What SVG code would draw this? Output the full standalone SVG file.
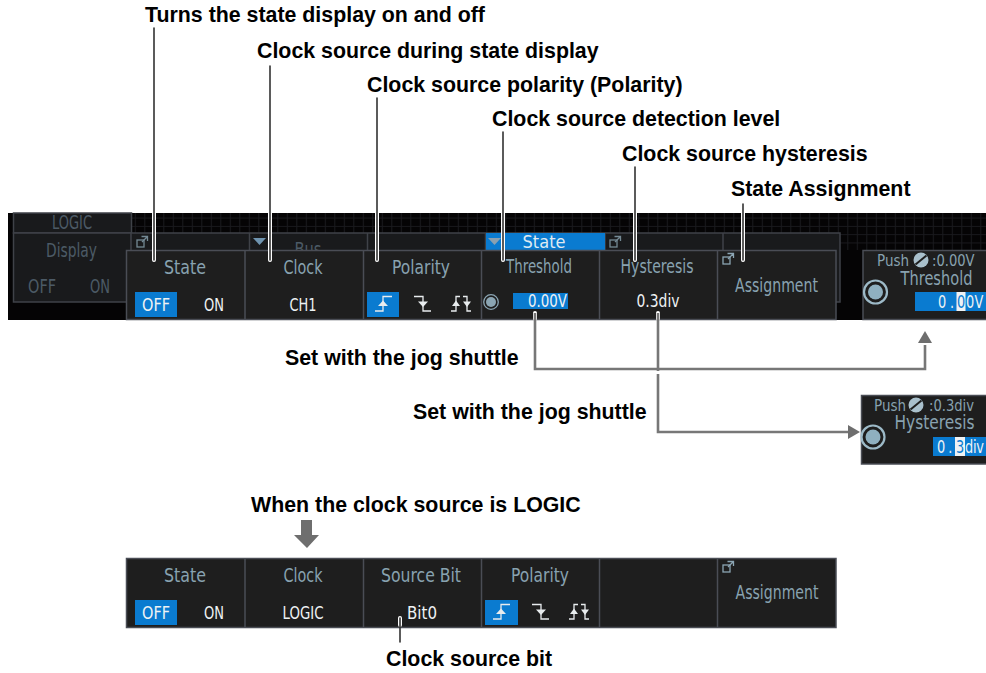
<svg xmlns="http://www.w3.org/2000/svg" xmlns:xlink="http://www.w3.org/1999/xlink" width="986" height="673" viewBox="0 0 986 673">
<style>
.lb{font:bold 21.350px "Liberation Sans",Arial,sans-serif;fill:#000}
.t{font-family:"DejaVu Sans",sans-serif;font-size:19px;fill:#88a2b0;text-anchor:middle}
.v{font-family:"DejaVu Sans",sans-serif;font-size:18.500px;fill:#eef2f4;text-anchor:middle}
.d{font-family:"DejaVu Sans",sans-serif;font-size:19px;fill:#4c5a66;text-anchor:middle}
.s{font-family:"DejaVu Sans",sans-serif;font-size:16px;fill:#88a2b0}
.e{font-family:"DejaVu Sans",sans-serif;font-size:18.500px;fill:#eef2f4}
.p{fill:#1e1e1e;stroke:#4a4d55;stroke-width:1.5}
.bk{fill:#191a1c;stroke:#3f4248;stroke-width:1.5}
.blue{fill:#0a7bd0}
.halo{fill:none;stroke:#fff;stroke-width:4;stroke-linecap:round}
.lead{fill:none;stroke:#333;stroke-width:1.6;stroke-linecap:round}
.g{fill:none;stroke:#777;stroke-width:2.6}
.gf{fill:#6e6e6e}
.ic{fill:none;stroke:#e8ecee;stroke-width:1.3}
.pop{fill:none;stroke:#8ba5b3;stroke-width:1.3}
</style>
<defs>
<pattern id="grid" width="9.500" height="8.300" patternUnits="userSpaceOnUse" x="1.800" y="1.800">
<path d="M0.500 0V8.300M0 0.500H9.500" fill="none" stroke="#1a1a1e" stroke-width="1"/>
</pattern>
<g id="pop"><rect x="0" y="4" width="7" height="7" class="pop"/><path d="M4.500 0.500H10.500V5M5 6L10.500 0.500" class="pop"/></g>
<g id="rise"><path d="M0 15H8V0.500H17" class="ic"/><path d="M8 4.500L13 10H3Z" fill="#e8ecee"/></g>
<g id="fall"><path d="M0 0.500H9V15H17" class="ic"/><path d="M9 11L4 5.500H14Z" fill="#e8ecee"/></g>
<g id="both"><path d="M0 15H5V0.500H9" class="ic"/><path d="M12 0.500H16V15H20" class="ic"/><path d="M5 4.500L9 10H1Z" fill="#e8ecee"/><path d="M16 11L12 5.500H20Z" fill="#e8ecee"/></g>
<g id="knob"><circle r="7.300" fill="none" stroke="#8ba5b3" stroke-width="1.300"/><circle r="5" fill="#8ba5b3"/></g>
<g id="bigknob"><circle r="11.500" fill="none" stroke="#9dbac8" stroke-width="2.200"/><circle r="7.500" fill="#8fb0c0"/></g>
<g id="push"><circle r="7.500" fill="#a9c0cc"/><path d="M-5.500 4.500L5.500 -4.500" stroke="#1e1e1e" stroke-width="2"/></g>
</defs>

<g id="band">
<rect x="8" y="213" width="978" height="107" fill="#050405"/>
<rect x="131" y="213" width="855" height="20" fill="url(#grid)"/>
<rect x="840" y="233" width="146" height="17" fill="url(#grid)"/>
</g>

<g id="back-panel">
<rect x="13.500" y="213" width="118" height="20" class="bk"/>
<rect x="13.500" y="233" width="118" height="69" class="bk"/>
<text x="72" y="229" class="d" textLength="40" lengthAdjust="spacingAndGlyphs">LOGIC</text>
<text x="71.500" y="257" class="d" textLength="51" lengthAdjust="spacingAndGlyphs">Display</text>
<text x="42" y="293" class="d" textLength="28" lengthAdjust="spacingAndGlyphs">OFF</text>
<text x="100" y="293" class="d" textLength="20" lengthAdjust="spacingAndGlyphs">ON</text>
<rect x="131" y="233" width="709" height="69" class="bk"/>
<path d="M249.500 233V250M367.500 233V250M485.500 233V250M605 233V250M723 233V250" stroke="#3f4248" stroke-width="1.500"/>
<use xlink:href="#pop" x="137" y="236" opacity=".8"/>
<path d="M253 238H266L259.500 245Z" fill="#6f94b0"/>
<text x="308" y="256" class="d" textLength="27" lengthAdjust="spacingAndGlyphs">Bus</text>
<rect x="486" y="233" width="119" height="17" class="blue"/>
<path d="M488 238H501L494.500 245Z" fill="#8aa0b0"/>
<text x="544" y="248" style="font:18px 'DejaVu Sans',sans-serif;fill:#dfeaf2;text-anchor:middle" textLength="43" lengthAdjust="spacingAndGlyphs">State</text>
<use xlink:href="#pop" x="610" y="236" opacity=".8"/>
</g>

<g id="main-menu">
<rect x="126.500" y="250.500" width="709.500" height="69" class="p"/>
<path d="M245 250.500V319.500M363.500 250.500V319.500M481.500 250.500V319.500M599.500 250.500V319.500M717.500 250.500V319.500" stroke="#4a4d55" stroke-width="1.500"/>
<text x="185" y="274" class="t" textLength="42" lengthAdjust="spacingAndGlyphs">State</text>
<rect x="135" y="292" width="42" height="25" class="blue"/>
<text x="156" y="311" class="v" textLength="28" lengthAdjust="spacingAndGlyphs">OFF</text>
<text x="214" y="311" class="v" textLength="20" lengthAdjust="spacingAndGlyphs">ON</text>
<text x="303" y="274" class="t" textLength="39" lengthAdjust="spacingAndGlyphs">Clock</text>
<text x="303" y="311" class="v" textLength="27" lengthAdjust="spacingAndGlyphs">CH1</text>
<text x="421" y="274" class="t" textLength="58" lengthAdjust="spacingAndGlyphs">Polarity</text>
<rect x="367" y="292" width="32" height="25" class="blue"/>
<use xlink:href="#rise" x="375" y="296"/>
<use xlink:href="#fall" x="414" y="296"/>
<use xlink:href="#both" x="451" y="296"/>
<text x="539" y="272.500" class="t" textLength="66" lengthAdjust="spacingAndGlyphs">Threshold</text>
<use xlink:href="#knob" x="491" y="302"/>
<rect x="513" y="293" width="55" height="16" class="blue"/>
<text x="547.500" y="307" class="v" style="font-size:17px" textLength="39" lengthAdjust="spacingAndGlyphs">0.00V</text>
<text x="657" y="272.500" class="t" textLength="73" lengthAdjust="spacingAndGlyphs">Hysteresis</text>
<text x="658" y="307" class="v" style="font-size:17px" textLength="43" lengthAdjust="spacingAndGlyphs">0.3div</text>
<use xlink:href="#pop" x="723" y="253"/>
<text x="776.500" y="291.500" class="t" textLength="83" lengthAdjust="spacingAndGlyphs">Assignment</text>
</g>

<g id="threshold-panel">
<rect x="863" y="250.500" width="125" height="69" class="p"/>
<text x="877" y="266" class="s" textLength="32" lengthAdjust="spacingAndGlyphs">Push</text>
<use xlink:href="#push" x="921" y="260"/>
<text class="s" transform="translate(932 266) scale(.82 1)">:0.00V</text>
<text class="t" style="font-size:20px" transform="translate(936.500 285) scale(.73 1)">Threshold</text>
<use xlink:href="#bigknob" x="875.500" y="292"/>
<rect x="915" y="292" width="71" height="19" class="blue"/>
<rect x="956.500" y="292" width="9" height="19" fill="#eef2f4"/>
<text class="e" transform="translate(938 308) scale(.7 1)" x="0 17 27 40 52">0.<tspan fill="#0a7bd0">0</tspan>0V</text>
</g>

<g id="hysteresis-panel">
<rect x="861.500" y="395.500" width="126" height="68.500" class="p"/>
<text x="874" y="411" class="s" textLength="32" lengthAdjust="spacingAndGlyphs">Push</text>
<use xlink:href="#push" x="916" y="405"/>
<text class="s" transform="translate(929 411) scale(.82 1)">:0.3div</text>
<text class="t" style="font-size:20px" transform="translate(934.500 429) scale(.77 1)">Hysteresis</text>
<use xlink:href="#bigknob" x="873" y="437"/>
<rect x="933" y="437" width="53" height="19" class="blue"/>
<rect x="955" y="437" width="10" height="19" fill="#eef2f4"/>
<text class="e" transform="translate(937 453) scale(.7 1)" x="0 16 27 40 51.500 56">0.<tspan fill="#0a7bd0">3</tspan>div</text>
</g>

<g id="logic-menu">
<rect x="126.500" y="558.500" width="709.500" height="69" class="p"/>
<path d="M245 558.500V627.500M363.500 558.500V627.500M481.500 558.500V627.500M599.500 558.500V627.500M717.500 558.500V627.500" stroke="#4a4d55" stroke-width="1.500"/>
<text x="185" y="582" class="t" textLength="42" lengthAdjust="spacingAndGlyphs">State</text>
<rect x="135" y="600" width="42" height="25" class="blue"/>
<text x="156" y="619" class="v" textLength="28" lengthAdjust="spacingAndGlyphs">OFF</text>
<text x="214" y="619" class="v" textLength="20" lengthAdjust="spacingAndGlyphs">ON</text>
<text x="303" y="582" class="t" textLength="39" lengthAdjust="spacingAndGlyphs">Clock</text>
<text x="303" y="619" class="v" textLength="41" lengthAdjust="spacingAndGlyphs">LOGIC</text>
<text x="421" y="582" class="t" textLength="80" lengthAdjust="spacingAndGlyphs">Source Bit</text>
<text x="422" y="619" class="v" textLength="30" lengthAdjust="spacingAndGlyphs">Bit0</text>
<text x="540" y="582" class="t" textLength="58" lengthAdjust="spacingAndGlyphs">Polarity</text>
<rect x="485" y="600" width="33" height="25" class="blue"/>
<use xlink:href="#rise" x="493" y="604"/>
<use xlink:href="#fall" x="532" y="604"/>
<use xlink:href="#both" x="569" y="604"/>
<use xlink:href="#pop" x="723" y="561"/>
<text x="777" y="599" class="t" textLength="83" lengthAdjust="spacingAndGlyphs">Assignment</text>
</g>

<g id="connectors">
<path class="halo" d="M154 213V260M270 213V260M377 213V260M503 213V260M635 213V260M743 213V260"/>
<path class="lead" d="M154 28V260M270 66V260M377 98V260M503 132V260M635 167V260M743 204V260"/>
<path class="halo" d="M400 618V625"/>
<path class="lead" d="M400 618V642"/>
<path class="halo" d="M535 313V319M658 313V319"/>
<path class="g" d="M658 313V432H850"/>
<rect x="655" y="371" width="6" height="3" fill="#fff"/>
<path class="g" d="M535 313V369H925V345"/>
<path class="gf" d="M925 331L932 343H918Z"/>
<path class="gf" d="M860 432L848 425V439Z"/>
<path class="gf" d="M301 520H312V535H319L307 548L294 535H301Z"/>
</g>

<g id="labels">
<text class="lb" x="145" y="21.500">Turns the state display on and off</text>
<text class="lb" x="257" y="57.500">Clock source during state display</text>
<text class="lb" x="367" y="91.500">Clock source polarity (Polarity)</text>
<text class="lb" x="492" y="125.500">Clock source detection level</text>
<text class="lb" x="622" y="160.500">Clock source hysteresis</text>
<text class="lb" x="731" y="195.500">State Assignment</text>
<text class="lb" x="285" y="364.500">Set with the jog shuttle</text>
<text class="lb" x="413" y="418.500">Set with the jog shuttle</text>
<text class="lb" x="251" y="511.500">When the clock source is LOGIC</text>
<text class="lb" x="386" y="665.500">Clock source bit</text>
</g>
</svg>
